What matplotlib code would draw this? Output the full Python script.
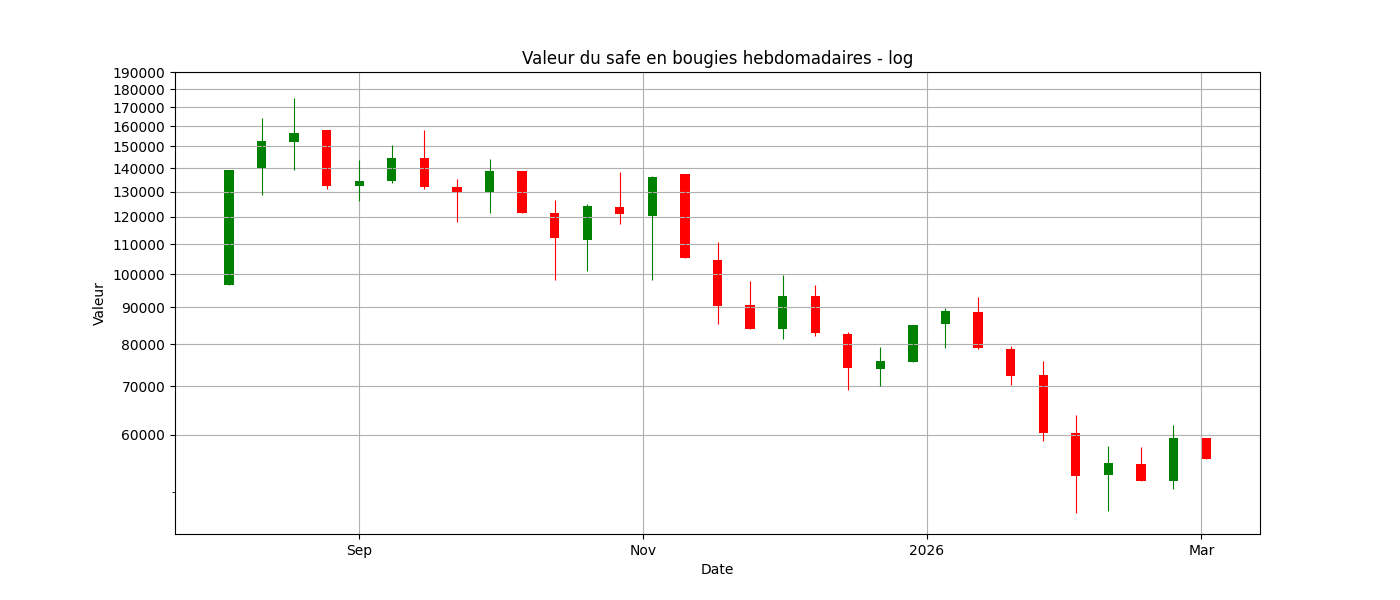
"""
Bougies hebdomadaires de la valeur du safe, échelle log.
"""

import numpy as np
import pandas as pd
import matplotlib
matplotlib.use("Agg")
import matplotlib.pyplot as plt
import matplotlib.dates as mdates
from matplotlib.ticker import FormatStrFormatter, NullFormatter

# semaines (lundi)
weeks = pd.date_range("2025-08-04", periods=31, freq="7D")

opens = [96600, 140000, 152100, 158000, 132300, 134400, 144600, 131800,
         129800, 138700, 121400, 111400, 123700, 120300, 137400, 104600,
         90700, 84000, 93300, 82700, 74000, 75600, 85300, 88700,
         78800, 72600, 60400, 52800, 54700, 51800, 59400]
closes = [139150, 152600, 156500, 132300, 134400, 144600, 131800, 129800,
          138700, 121400, 112100, 124100, 121000, 136100, 105200, 90400,
          84000, 93300, 82900, 74200, 75900, 85100, 88900, 79100,
          72400, 60400, 52700, 54900, 51800, 59400, 55600]
highs = [139150, 164100, 174900, 158000, 143600, 150700, 158000, 135200,
         144100, 138700, 126500, 124900, 138300, 136500, 137400, 110700,
         97800, 99700, 96600, 83300, 79300, 85100, 89800, 93000,
         79600, 75900, 63900, 57900, 57700, 61900, 59400]
lows = [96600, 128500, 139300, 131000, 126100, 133700, 131000, 118000,
        121400, 121400, 98100, 101000, 117200, 98100, 105200, 85300,
        84000, 81400, 82200, 69200, 70100, 75600, 79100, 78800,
        70300, 58900, 46800, 47100, 51800, 50500, 55600]

ytick_vals = list(range(60000, 200000, 10000))


def main():
    o = np.array(opens, dtype=float)
    c = np.array(closes, dtype=float)
    colors = np.where(c >= o, "green", "red")

    fig, ax = plt.subplots(figsize=(14, 6))

    ax.vlines(weeks, lows, highs, colors=colors, linewidth=0.8)
    ax.bar(weeks, np.abs(c - o), bottom=np.minimum(o, c), width=2,
           color=colors)

    ax.set_yscale("log")
    ax.set_yticks(ytick_vals)
    ax.yaxis.set_major_formatter(FormatStrFormatter("%d"))
    ax.yaxis.set_minor_formatter(NullFormatter())

    ax.xaxis.set_major_locator(mdates.MonthLocator(bymonth=range(1, 13, 2)))
    ax.xaxis.set_major_formatter(
        mdates.ConciseDateFormatter(ax.xaxis.get_major_locator()))

    ax.set_title("Valeur du safe en bougies hebdomadaires - log")
    ax.set_xlabel("Date")
    ax.set_ylabel("Valeur")
    ax.grid(True)

    plt.savefig("out.png", dpi=100)
    plt.close()


if __name__ == "__main__":
    main()
